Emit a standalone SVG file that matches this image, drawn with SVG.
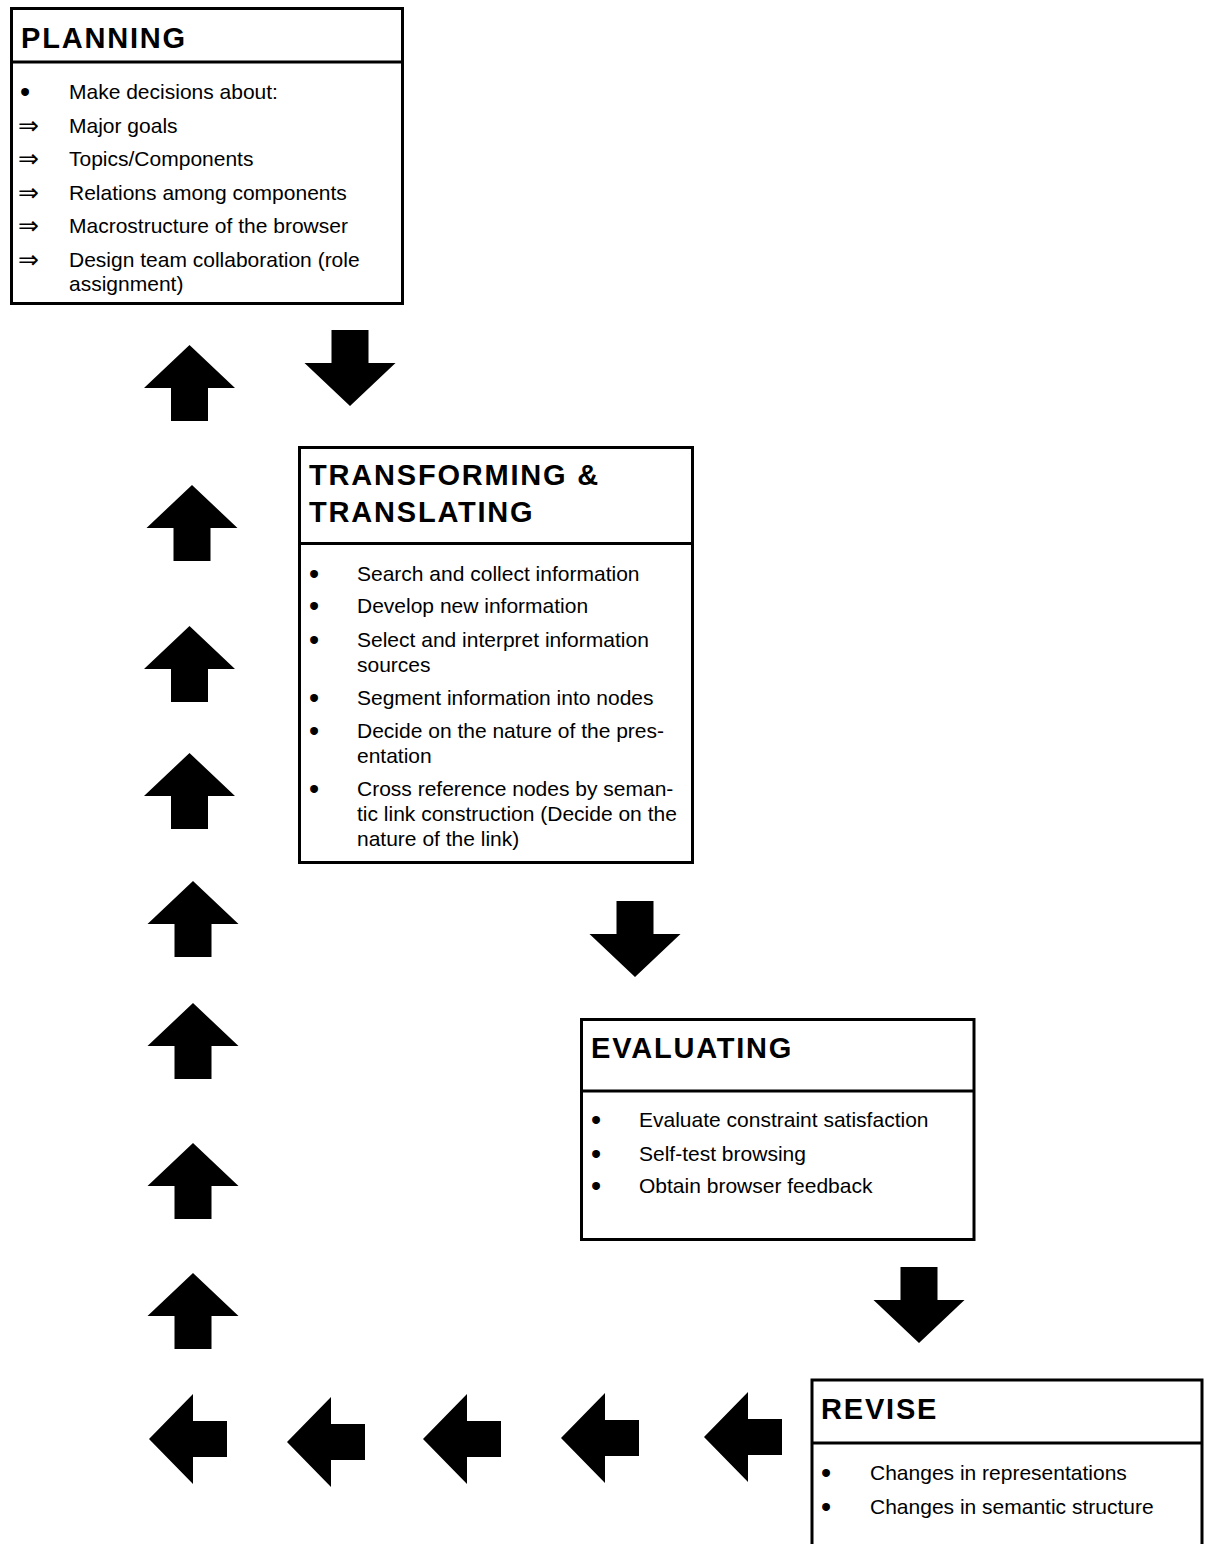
<svg xmlns="http://www.w3.org/2000/svg" xmlns:xlink="http://www.w3.org/1999/xlink" width="1205" height="1544" viewBox="0 0 1205 1544">
<style>
.box{fill:#fff;stroke:#000;stroke-width:3}
.div{stroke:#000;stroke-width:3}
.title{font-family:"Liberation Sans",Arial,sans-serif;font-weight:bold;font-size:29px;letter-spacing:1.8px;fill:#000}
.item{font-family:"Liberation Sans",Arial,sans-serif;font-size:21px;fill:#000}
.bul{font-family:"Liberation Sans",Arial,sans-serif;font-size:29px;fill:#000}
.sym{font-family:"DejaVu Sans",sans-serif;font-size:25px;fill:#000}
.arrow{fill:#000}
</style>
<defs>
<path id="up" d="M0,0 L45.5,43 L18.5,43 L18.5,76 L-18.5,76 L-18.5,43 L-45.5,43 Z"/>
<path id="down" d="M0,0 L45.5,-43 L18.5,-43 L18.5,-76 L-18.5,-76 L-18.5,-43 L-45.5,-43 Z"/>
<path id="left" d="M0,0 L44,-45 L44,-18 L78,-18 L78,18 L44,18 L44,45 Z"/>
</defs>
<rect width="1205" height="1544" fill="#fff"/>

<g id="planning">
<rect class="box" x="11.5" y="8.5" width="391" height="295"/>
<line class="div" x1="11.5" y1="62" x2="402.5" y2="62"/>
<text class="title" x="21" y="48">PLANNING</text>
<text class="bul" x="20" y="102">•</text>
<text class="item" x="69" y="99">Make decisions about:</text>
<text class="sym" x="18" y="134">⇒</text>
<text class="item" x="69" y="133">Major goals</text>
<text class="sym" x="18" y="167">⇒</text>
<text class="item" x="69" y="166">Topics/Components</text>
<text class="sym" x="18" y="201">⇒</text>
<text class="item" x="69" y="200">Relations among components</text>
<text class="sym" x="18" y="234">⇒</text>
<text class="item" x="69" y="233">Macrostructure of the browser</text>
<text class="sym" x="18" y="268">⇒</text>
<text class="item" x="69" y="267">Design team collaboration (role</text>
<text class="item" x="69" y="291">assignment)</text>
</g>

<g id="transforming">
<rect class="box" x="299.5" y="447.5" width="393" height="415"/>
<line class="div" x1="299.5" y1="543.5" x2="692.5" y2="543.5"/>
<text class="title" x="309" y="485">TRANSFORMING &amp;</text>
<text class="title" x="309" y="522">TRANSLATING</text>
<text class="bul" x="309" y="584">•</text>
<text class="item" x="357" y="581">Search and collect information</text>
<text class="bul" x="309" y="616">•</text>
<text class="item" x="357" y="613">Develop new information</text>
<text class="bul" x="309" y="650">•</text>
<text class="item" x="357" y="647">Select and interpret information</text>
<text class="item" x="357" y="672">sources</text>
<text class="bul" x="309" y="708">•</text>
<text class="item" x="357" y="705">Segment information into nodes</text>
<text class="bul" x="309" y="741">•</text>
<text class="item" x="357" y="738">Decide on the nature of the pres-</text>
<text class="item" x="357" y="763">entation</text>
<text class="bul" x="309" y="799">•</text>
<text class="item" x="357" y="796">Cross reference nodes by seman-</text>
<text class="item" x="357" y="821">tic link construction (Decide on the</text>
<text class="item" x="357" y="846">nature of the link)</text>
</g>

<g id="evaluating">
<rect class="box" x="581.5" y="1019.5" width="392.5" height="220"/>
<line class="div" x1="581.5" y1="1091" x2="974" y2="1091"/>
<text class="title" x="591" y="1058">EVALUATING</text>
<text class="bul" x="591" y="1130">•</text>
<text class="item" x="639" y="1127">Evaluate constraint satisfaction</text>
<text class="bul" x="591" y="1164">•</text>
<text class="item" x="639" y="1161">Self-test browsing</text>
<text class="bul" x="591" y="1196">•</text>
<text class="item" x="639" y="1193">Obtain browser feedback</text>
</g>

<g id="revise">
<path d="M812,1550 V1380 H1202 V1550" fill="#fff" stroke="#000" stroke-width="3"/>
<line class="div" x1="812" y1="1443" x2="1202" y2="1443"/>
<text class="title" x="821" y="1419">REVISE</text>
<text class="bul" x="821" y="1483">•</text>
<text class="item" x="870" y="1480">Changes in representations</text>
<text class="bul" x="821" y="1517">•</text>
<text class="item" x="870" y="1514">Changes in semantic structure</text>
</g>

<g id="connectors" class="arrow">
<use xlink:href="#down" href="#down" x="350" y="406"/>
<use xlink:href="#down" href="#down" x="635" y="977"/>
<use xlink:href="#down" href="#down" x="919" y="1343"/>
<use xlink:href="#left" href="#left" x="704" y="1437"/>
<use xlink:href="#left" href="#left" x="561" y="1438"/>
<use xlink:href="#left" href="#left" x="423" y="1439"/>
<use xlink:href="#left" href="#left" x="287" y="1442"/>
<use xlink:href="#left" href="#left" x="149" y="1439"/>
<use xlink:href="#up" href="#up" x="193" y="1273"/>
<use xlink:href="#up" href="#up" x="193" y="1143"/>
<use xlink:href="#up" href="#up" x="193" y="1003"/>
<use xlink:href="#up" href="#up" x="193" y="881"/>
<use xlink:href="#up" href="#up" x="189.5" y="753"/>
<use xlink:href="#up" href="#up" x="189.5" y="626"/>
<use xlink:href="#up" href="#up" x="192" y="485"/>
<use xlink:href="#up" href="#up" x="189.5" y="345"/>
</g>
</svg>
